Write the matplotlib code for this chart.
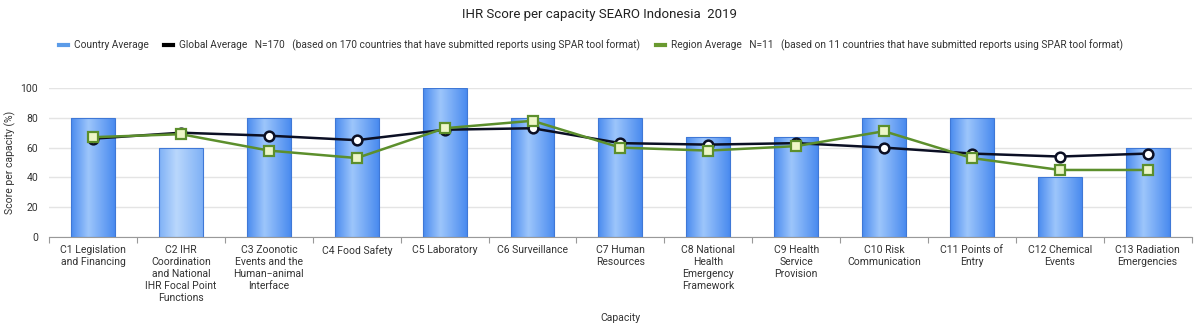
import numpy as np
import matplotlib
matplotlib.use("Agg")
import matplotlib.pyplot as plt
from matplotlib.colors import LinearSegmentedColormap
from matplotlib.lines import Line2D

plt.rcParams['font.family'] = ['Roboto', 'DejaVu Sans']

capacities = [
    "C1 Legislation\nand Financing",
    "C2 IHR\nCoordination\nand National\nIHR Focal Point\nFunctions",
    "C3 Zoonotic\nEvents and the\nHuman\u2212animal\nInterface",
    "C4 Food Safety",
    "C5 Laboratory",
    "C6 Surveillance",
    "C7 Human\nResources",
    "C8 National\nHealth\nEmergency\nFramework",
    "C9 Health\nService\nProvision",
    "C10 Risk\nCommunication",
    "C11 Points of\nEntry",
    "C12 Chemical\nEvents",
    "C13 Radiation\nEmergencies",
]
country_avg = [80, 60, 80, 80, 100, 80, 80, 67, 67, 80, 80, 40, 60]
global_avg = [66, 70, 68, 65, 72, 73, 63, 62, 63, 60, 56, 54, 56]
region_avg = [67, 69, 58, 53, 73, 78, 60, 58, 61, 71, 53, 45, 45]

fig = plt.figure(figsize=(12, 3.29), dpi=100)
ax = fig.add_axes([0.041, 0.2796, 0.952, 0.4529])

x = np.arange(len(capacities))
bars = ax.bar(x, country_avg, width=0.5, color='none',
              edgecolor='#3f78d6', linewidth=0.8, zorder=3)

# horizontal shading inside each bar: darker sides, lighter centre-left
grad = np.concatenate([np.linspace(0, 1, 40), np.linspace(1, 0, 60)])[None, :]
cm_main = LinearSegmentedColormap.from_list('b', ['#4a8bef', '#9cc5fb'])
cm_light = LinearSegmentedColormap.from_list('bl', ['#7fb1f6', '#b9d7fc'])
for i, rect in enumerate(bars):
    x0 = rect.get_x()
    x1 = x0 + rect.get_width()
    im = ax.imshow(grad, extent=[x0, x1, 0, rect.get_height()], aspect='auto',
                   cmap=cm_light if i == 1 else cm_main, zorder=2.5,
                   interpolation='bilinear')
    im.set_clip_path(rect)

ax.plot(x, global_avg, color='#0b0f24', lw=1.8, marker='o', ms=7,
        mfc='white', mec='#0b0f24', mew=1.8, zorder=4)
ax.plot(x, region_avg, color='#5c8f2c', lw=1.8, marker='s', ms=7,
        mfc='#eef6c8', mec='#5c8f2c', mew=1.6, zorder=5)

ax.set_xlim(-0.5, len(capacities) - 0.5)
ax.set_ylim(0, 100)
ax.set_yticks(range(0, 101, 20))
ax.grid(axis='y', color='#e4e4e4', lw=1, zorder=0)
ax.set_axisbelow(True)

ax.set_xticks(x)
ax.set_xticklabels(capacities, fontsize=7.5, color='#333333', linespacing=1.25)
ax.set_xticks(np.arange(-0.5, len(capacities)), minor=True)
ax.tick_params(axis='x', which='major', length=0, pad=6)
ax.tick_params(axis='x', which='minor', length=4, color='#999999', width=0.8)
ax.tick_params(axis='y', length=0, labelsize=7.5, labelcolor='#333333', pad=8)

for s in ['top', 'right', 'left']:
    ax.spines[s].set_visible(False)
ax.spines['bottom'].set_color('#999999')
ax.spines['bottom'].set_linewidth(0.8)

ax.set_ylabel('Score per capacity (%)', fontsize=7.5, color='#333333')
ax.yaxis.set_label_coords(-0.029, 0.5)
fig.text(0.517, 0.025, 'Capacity', ha='center', fontsize=7.5, color='#333333')

fig.text(0.5, 0.955, 'IHR Score per capacity SEARO Indonesia  2019',
         ha='center', va='center', fontsize=9.5, color='#222222')

handles = [
    Line2D([], [], color='#5b9be8', lw=3),
    Line2D([], [], color='#000000', lw=3),
    Line2D([], [], color='#6a9a30', lw=3),
]
labels = [
    'Country Average',
    'Global Average   N=170   (based on 170 countries that have submitted reports using SPAR tool format)',
    'Region Average   N=11   (based on 11 countries that have submitted reports using SPAR tool format)',
]
fig.legend(handles, labels, loc='center', bbox_to_anchor=(0.4925, 0.863), ncol=3,
           frameon=False, fontsize=7.25, handlelength=0.9, handletextpad=0.6,
           columnspacing=1.5, labelcolor='#333333')

fig.savefig('out.png', dpi=100)
